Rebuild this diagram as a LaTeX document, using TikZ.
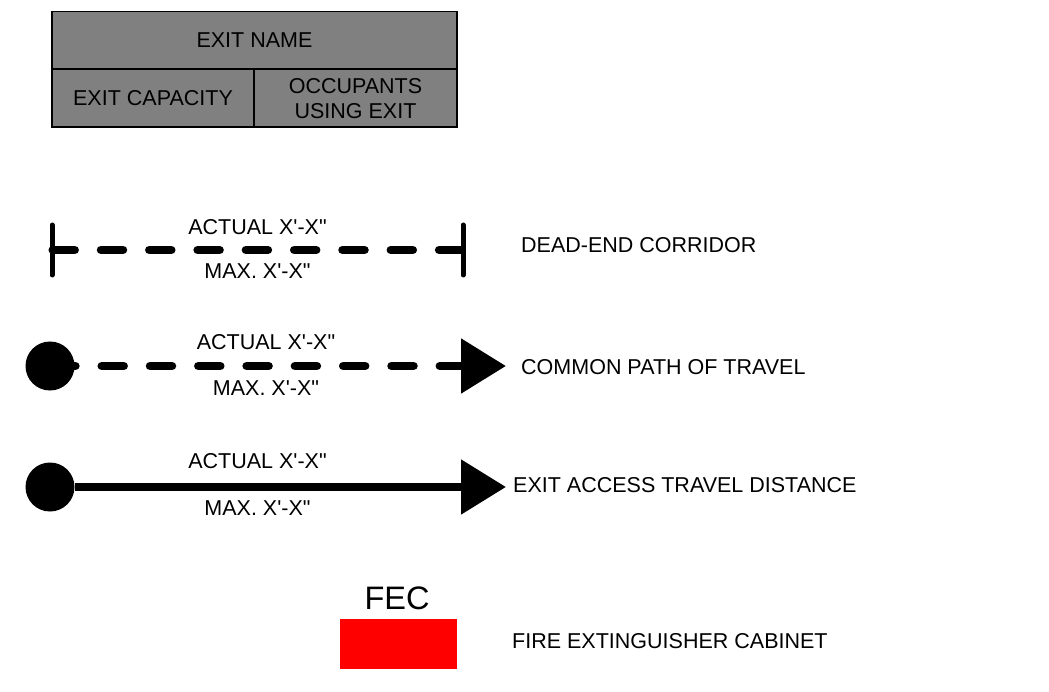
\documentclass[tikz,border=0pt]{standalone}
\usepackage{fontspec}
\setmainfont{Liberation Sans}[Ligatures=TeXOff]
\usepackage{tikz}
\usetikzlibrary{arrows.meta}

\begin{document}
\begin{tikzpicture}[x=1pt, y=-1pt, every node/.style={font=\fontsize{21.5}{25}\selectfont, inner sep=0pt},
	cell/.style={draw, fill=gray, line width=1.5pt, minimum height=57.5pt},
	dot/.style={circle, fill=black, minimum size=49pt},
	corridor/.style={line width=8.5pt, line cap=round, dash pattern=on 22pt off 26.3pt},
	endbar/.style={line width=5pt, line cap=round},
	tip/.style={-{Triangle[length=45pt, width=53pt]}}]
	\useasboundingbox (0,0) rectangle (1049,692);
	\node[cell, minimum width=405pt] (exitname) at (254.5,40.5) {EXIT NAME};
	\node[cell, minimum width=202pt] (exitcap) at (153,98.5) {EXIT CAPACITY};
	\node[cell, minimum width=203pt, align=center] (occupants) at (355.5,98.5) {OCCUPANTS\\USING EXIT};

	\coordinate (de-l) at (52,250);
	\coordinate (de-r) at (463,250);
	\draw[corridor, dash phase=47.6pt] (de-l) -- (de-r);
	\draw[endbar] ([yshift=-25pt]de-l) -- ([yshift=25pt]de-l);
	\draw[endbar] ([yshift=-25pt]de-r) -- ([yshift=25pt]de-r);
	\node (de-actual) at (257.5,227) {ACTUAL X'-X"};
	\node (de-max) at (257.5,271) {MAX. X'-X"};
	\node[anchor=west] (de-text) at (521,245) {DEAD-END CORRIDOR};

	\node[dot] (cp-dot) at (50,366) {};
	\coordinate (cp-tip) at (506,366);
	\draw[corridor, tip, dash phase=21.3pt] (cp-dot) -- (cp-tip);
	\node (cp-actual) at (266,342) {ACTUAL X'-X"};
	\node (cp-max) at (266,388) {MAX. X'-X"};
	\node[anchor=west] (cp-text) at (521,367) {COMMON PATH OF TRAVEL};

	\node[dot] (ea-dot) at (50,487) {};
	\coordinate (ea-tip) at (506,487);
	\draw[line width=8.5pt, tip] (ea-dot) -- (ea-tip);
	\node (ea-actual) at (257.5,461) {ACTUAL X'-X"};
	\node (ea-max) at (257.5,508) {MAX. X'-X"};
	\node[anchor=west] (ea-text) at (513,485) {EXIT ACCESS TRAVEL DISTANCE};

	\node[fill=red, minimum width=117pt, minimum height=50pt] (fec) at (398.5,644) {};
	\node[font=\fontsize{32.5}{38}\selectfont] (fec-label) at (397,598) {FEC};
	\node[anchor=west] (fec-text) at (512,641) {FIRE EXTINGUISHER CABINET};
\end{tikzpicture}
\end{document}
